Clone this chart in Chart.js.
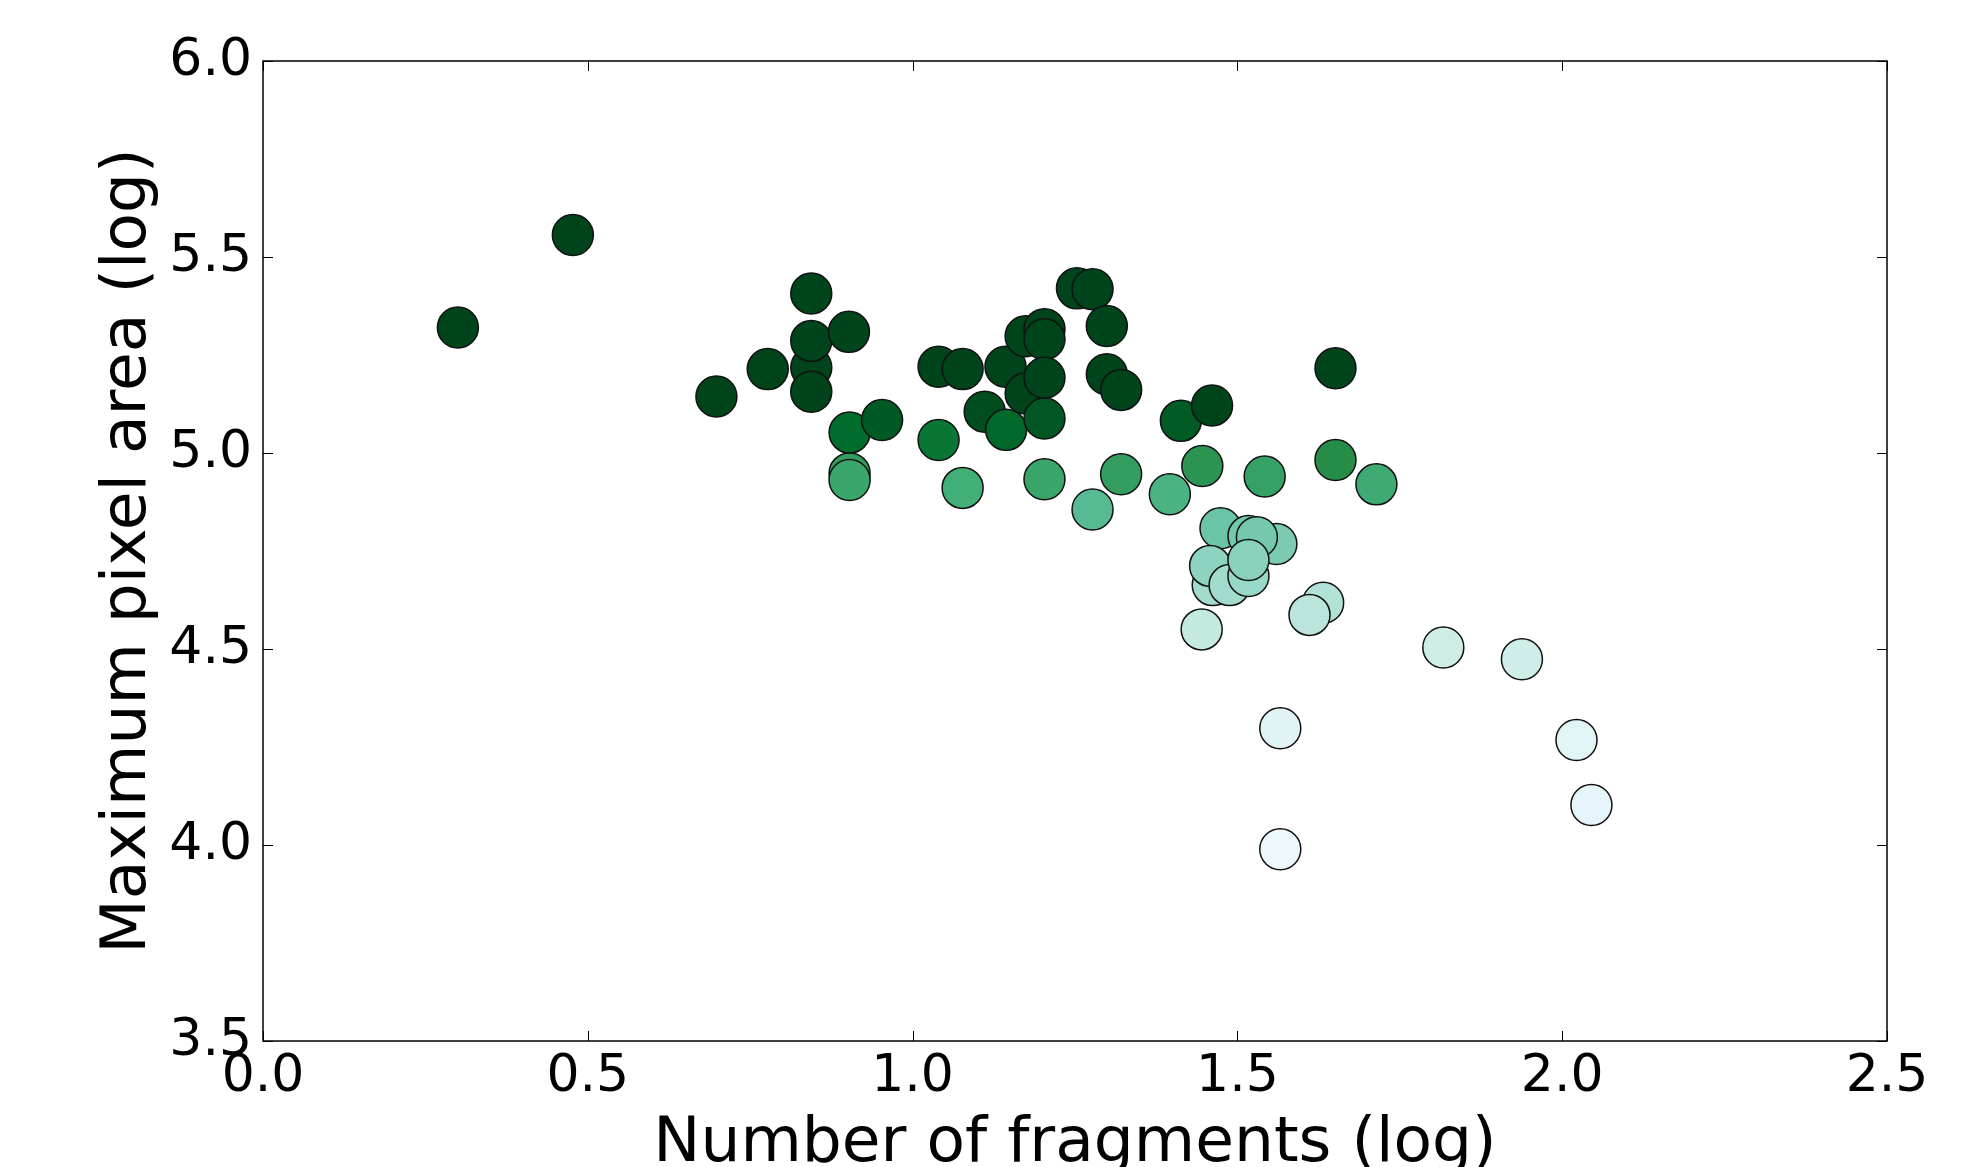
<!DOCTYPE html>
<html>
<head>
<meta charset="utf-8">
<script src="https://cdn.jsdelivr.net/npm/chart.js@4.4.1/dist/chart.umd.min.js"></script>
<style>
  html, body { margin: 0; padding: 0; background: #fff; }
  canvas { display: block; }
</style>
</head>
<body>
<canvas id="scatter" width="1977" height="1167"></canvas>
<script>
// values
const fragmentsLog = [
  0.300, 0.477, 0.698, 0.777, 0.844, 0.844, 0.844, 0.844, 0.902, 0.903,
  0.953, 0.903, 0.903, 1.040, 1.040, 1.077, 1.077, 1.143, 1.111, 1.144,
  1.174, 1.174, 1.203, 1.203, 1.203, 1.203, 1.203, 1.253, 1.277, 1.299,
  1.299, 1.321, 1.277, 1.321, 1.413, 1.461, 1.396, 1.446, 1.542, 1.651,
  1.651, 1.714, 1.474, 1.560, 1.517, 1.530, 1.462, 1.458, 1.488, 1.517,
  1.517, 1.445, 1.632, 1.611, 1.817, 1.938, 1.566, 1.566, 2.022, 2.045
];
const maxAreaLog = [
  5.320, 5.556, 5.144, 5.214, 5.407, 5.218, 5.286, 5.156, 5.309, 5.052,
  5.084, 4.948, 4.931, 5.220, 5.033, 5.214, 4.911, 5.220, 5.105, 5.059,
  5.152, 5.298, 5.316, 5.290, 5.088, 5.192, 4.933, 5.420, 5.418, 5.324,
  5.201, 5.161, 4.856, 4.946, 5.082, 5.121, 4.895, 4.967, 4.940, 5.216,
  4.982, 4.920, 4.808, 4.768, 4.788, 4.785, 4.663, 4.712, 4.663, 4.686,
  4.727, 4.550, 4.618, 4.587, 4.504, 4.474, 4.298, 3.989, 4.268, 4.102
];
const xTickLabels = ['0.0', '0.5', '1.0', '1.5', '2.0', '2.5'];
const yTickLabels = ['3.5', '4.0', '4.5', '5.0', '5.5', '6.0'];

// BuGn colour map, and how y maps onto it
const bugn = ['#f7fcfd', '#e5f5f9', '#ccece6', '#99d8c9', '#66c2a4', '#41ae76', '#238b45', '#006d2c', '#00441b'];
const normPts = [[3.95, 0.06], [4.1, 0.12], [4.3, 0.15], [4.5, 0.24], [4.6, 0.30], [4.7, 0.39],
                 [4.8, 0.48], [4.9, 0.60], [4.98, 0.74], [5.05, 0.87], [5.12, 1.0]];

function hexToRgb(h) {
  const n = parseInt(h.slice(1), 16);
  return [(n >> 16) & 255, (n >> 8) & 255, n & 255];
}
function norm(v) {
  if (v <= normPts[0][0]) return normPts[0][1];
  for (let i = 1; i < normPts.length; i++) {
    if (v <= normPts[i][0]) {
      const [x0, t0] = normPts[i - 1], [x1, t1] = normPts[i];
      return t0 + (v - x0) / (x1 - x0) * (t1 - t0);
    }
  }
  return 1;
}
function cmap(t) {
  const p = Math.min(Math.max(t, 0), 1) * (bugn.length - 1);
  const i = Math.min(Math.floor(p), bugn.length - 2);
  const f = p - i;
  const a = hexToRgb(bugn[i]), b = hexToRgb(bugn[i + 1]);
  const c = a.map((v, k) => Math.round(v + (b[k] - v) * f));
  return `rgb(${c[0]},${c[1]},${c[2]})`;
}

const points = fragmentsLog.map((x, i) => ({ x: x, y: maxAreaLog[i] }));
const colors = maxAreaLog.map(v => cmap(norm(v)));

const FONT = 'DejaVu Sans';

// matplotlib style box with inward ticks on all four sides
const framePlugin = {
  id: 'frame',
  afterDatasetsDraw(chart) {
    const { ctx, chartArea: a, scales: { x, y } } = chart;
    ctx.save();
    ctx.strokeStyle = '#000';
    ctx.lineWidth = 1;
    ctx.beginPath();
    x.ticks.forEach(t => {
      const px = Math.round(x.getPixelForValue(t.value)) + 0.5;
      ctx.moveTo(px, a.bottom); ctx.lineTo(px, a.bottom - 10);
      ctx.moveTo(px, a.top); ctx.lineTo(px, a.top + 10);
    });
    y.ticks.forEach(t => {
      const py = Math.round(y.getPixelForValue(t.value)) + 0.5;
      ctx.moveTo(a.left, py); ctx.lineTo(a.left + 10, py);
      ctx.moveTo(a.right, py); ctx.lineTo(a.right - 10, py);
    });
    ctx.stroke();
    ctx.lineWidth = 1.5;
    ctx.strokeRect(a.left, a.top, a.right - a.left, a.bottom - a.top);
    ctx.restore();
  }
};

new Chart(document.getElementById('scatter'), {
  type: 'scatter',
  data: {
    datasets: [{
      data: points,
      backgroundColor: colors,
      borderColor: '#111',
      borderWidth: 1.5,
      pointRadius: 20.5,
      pointHoverRadius: 20.5
    }]
  },
  options: {
    responsive: false,
    animation: false,
    events: [],
    layout: { padding: { left: 0, right: 90, top: 61, bottom: 0 } },
    plugins: { legend: { display: false }, tooltip: { enabled: false } },
    scales: {
      x: {
        type: 'linear', position: 'bottom', min: 0, max: 2.5,
        grid: { display: false, drawTicks: false },
        border: { display: false },
        ticks: {
          stepSize: 0.5, padding: 5, color: '#000', maxRotation: 0, autoSkip: false,
          font: { family: FONT, size: 52 },
          callback: (v, i) => xTickLabels[i]
        },
        title: {
          display: true, text: 'Number of fragments (log)', color: '#000',
          font: { family: FONT, size: 63, lineHeight: 0.7 },
          padding: { top: 0, bottom: 0 }
        },
        afterFit: s => { s.height = 126; }
      },
      y: {
        type: 'linear', position: 'left', min: 3.5, max: 6.0,
        grid: { display: false, drawTicks: false },
        border: { display: false },
        ticks: {
          stepSize: 0.5, padding: 11, color: '#000', autoSkip: false,
          font: { family: FONT, size: 52 },
          callback: (v, i) => yTickLabels[i]
        },
        title: {
          display: true, text: 'Maximum pixel area (log)', color: '#000',
          font: { family: FONT, size: 63, lineHeight: 1 },
          padding: { top: 97, bottom: 0 }
        },
        afterFit: s => { s.width = 263; }
      }
    }
  },
  plugins: [framePlugin]
});
</script>
</body>
</html>
